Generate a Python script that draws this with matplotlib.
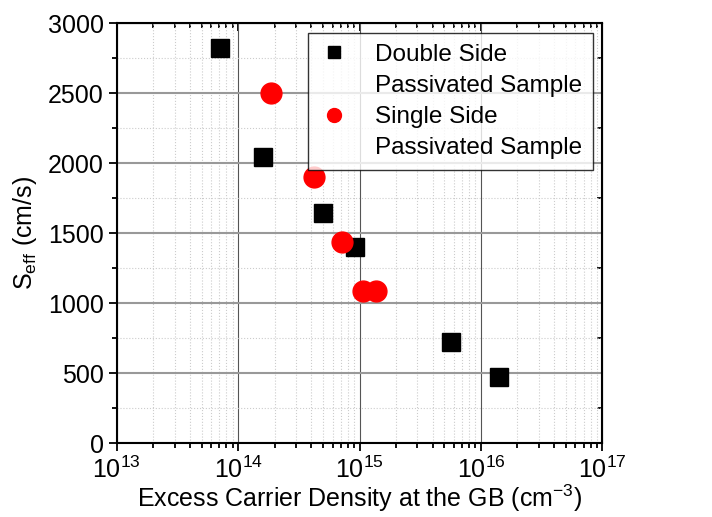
import matplotlib.pyplot as plt
import numpy as np
from matplotlib.lines import Line2D
from matplotlib.ticker import LogLocator, MultipleLocator, NullFormatter

plt.rcParams['font.family'] = ['Liberation Sans', 'DejaVu Sans']
plt.rcParams['mathtext.fontset'] = 'custom'
plt.rcParams['mathtext.rm'] = 'Liberation Sans'
plt.rcParams['mathtext.it'] = 'Liberation Sans'

# double side passivated sample
double_x = [7.1e13, 1.6e14, 4.97e14, 9.2e14, 5.66e15, 1.40e16]
double_y = [2824, 2045, 1641, 1402, 724, 473]
# single side passivated sample
single_x = [1.85e14, 4.24e14, 7.2e14, 1.07e15, 1.36e15]
single_y = [2498, 1898, 1438, 1088, 1088]

legend_labels = [('Double Side', 'Passivated Sample'),
                 ('Single Side', 'Passivated Sample')]

fig = plt.figure(figsize=(7.12, 5.17), dpi=100)
ax = fig.add_axes([0.164, 0.143, 0.682, 0.8125])

ax.set_xscale('log')
ax.set_xlim(1e13, 1e17)
ax.set_ylim(0, 3000)

ax.xaxis.set_major_locator(LogLocator(base=10, numticks=10))
ax.xaxis.set_minor_locator(LogLocator(base=10, subs=np.arange(2, 10), numticks=20))
ax.xaxis.set_minor_formatter(NullFormatter())
ax.yaxis.set_major_locator(MultipleLocator(500))
ax.yaxis.set_minor_locator(MultipleLocator(250))

ax.grid(which='major', axis='x', color='#555555', lw=0.8)
ax.grid(which='major', axis='y', color='#999999', lw=1.5)
ax.grid(which='minor', color='#cccccc', lw=0.8, ls=':')
ax.set_axisbelow(True)

ax.plot(double_x, double_y, 's', color='black', ms=13, ls='none')
ax.plot(single_x, single_y, 'o', color='red', ms=15, ls='none')

for s in ax.spines.values():
    s.set_linewidth(1.5)

ax.tick_params(which='both', labelsize=18, width=1.3)
ax.tick_params(which='major', length=6)
ax.tick_params(which='minor', length=3.5)
ax.tick_params(which='both', direction='out', top=False, right=False)
ax2 = ax.secondary_xaxis('top')
ax2.tick_params(which='both', direction='in', labeltop=False, width=1.3)
ax2.tick_params(which='major', length=6)
ax2.tick_params(which='minor', length=3.5)
ax2.xaxis.set_major_locator(LogLocator(base=10, numticks=10))
ax2.xaxis.set_minor_locator(LogLocator(base=10, subs=np.arange(2, 10), numticks=20))
ax2.xaxis.set_minor_formatter(NullFormatter())
ax3 = ax.secondary_yaxis('right')
ax3.tick_params(which='both', direction='in', labelright=False, width=1.3)
ax3.tick_params(which='major', length=6)
ax3.tick_params(which='minor', length=3.5)
ax3.yaxis.set_major_locator(MultipleLocator(500))
ax3.yaxis.set_minor_locator(MultipleLocator(250))

ax.set_xlabel('Excess Carrier Density at the GB (cm$^{-3}$)', fontsize=18, labelpad=0)
ax.set_ylabel('S$_{\\mathrm{eff}}$ (cm/s)', fontsize=18, labelpad=6)

# one legend row per text line so the marker sits next to the first line
handles = [Line2D([], [], marker='s', color='black', ms=9, ls='none'),
           Line2D([], [], ls='none'),
           Line2D([], [], marker='o', color='red', ms=10, ls='none'),
           Line2D([], [], ls='none')]
labels = [legend_labels[0][0], legend_labels[0][1],
          legend_labels[1][0], legend_labels[1][1]]
leg = ax.legend(handles, labels, loc='upper right', fontsize=17.5,
                frameon=True, fancybox=False, edgecolor='black',
                handlelength=1.3, borderaxespad=0.4, labelspacing=0.38,
                borderpad=0.45, handletextpad=1.0)
leg.get_frame().set_linewidth(1.0)

fig.savefig('out.png', dpi=100)
